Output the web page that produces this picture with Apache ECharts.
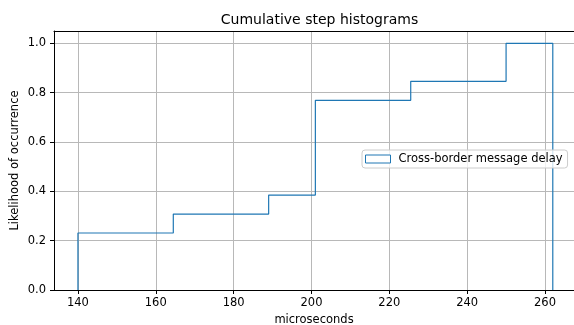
<!DOCTYPE html>
<html>
<head>
<meta charset="utf-8">
<script src="https://cdn.jsdelivr.net/npm/echarts@6/dist/echarts.min.js"></script>
<style>
html,body{margin:0;padding:0;background:#fff;}
#chart{width:574px;height:325px;}
</style>
</head>
<body>
<div id="chart"></div>
<script>
const xTicks = [140, 160, 180, 200, 220, 240, 260];
const yTicks = [0, 0.2, 0.4, 0.6, 0.8, 1.0];
const stepEdges = [140, 164.5, 189, 201, 225.5, 250, 262];
const cumulative = [0.231, 0.308, 0.385, 0.769, 0.846, 1.0];
const seriesName = 'Cross-border message delay';

const pts = [[stepEdges[0], 0]];
for (let i = 0; i < cumulative.length; i++) {
  pts.push([stepEdges[i], cumulative[i]]);
  pts.push([stepEdges[i + 1], cumulative[i]]);
}
pts.push([stepEdges[stepEdges.length - 1], 0]);

const FONT = 'DejaVu Sans';
const chart = echarts.init(document.getElementById('chart'), null, {renderer: 'canvas'});
chart.setOption({
  animation: false,
  backgroundColor: '#fff',
  textStyle: {fontFamily: FONT},
  title: {
    text: 'Cumulative step histograms',
    left: 314.5, top: 8,
    textAlign: 'center',
    textStyle: {fontFamily: FONT, fontSize: 14, fontWeight: 'normal', color: '#000'}
  },
  legend: {
    left: 362, top: 150,
    padding: [3, 5, 3, 3],
    backgroundColor: 'rgba(255,255,255,0.8)',
    borderColor: '#cccccc', borderWidth: 1, borderRadius: 3,
    icon: 'rect', itemWidth: 25, itemHeight: 8,
    itemStyle: {color: '#ffffff', borderColor: '#1f77b4', borderWidth: 1},
    textStyle: {fontFamily: FONT, fontSize: 11.5, color: '#000', padding: [0, 0, 0, 3]},
    data: [seriesName]
  },
  grid: {left: 54, right: 0, top: 31, bottom: 35, containLabel: false, outerBoundsMode: 'none'},
  xAxis: [{
    type: 'value', min: 133.85, max: 267.45,
    name: 'microseconds', nameLocation: 'middle', nameGap: 24, nameMoveOverlap: false,
    nameTextStyle: {fontFamily: FONT, fontSize: 11.5, color: '#000'},
    axisLine: {show: true, onZero: false, lineStyle: {color: '#000', width: 1}},
    axisTick: {show: true, inside: false, length: 4, customValues: xTicks, lineStyle: {color: '#000'}},
    axisLabel: {show: true, margin: 7, customValues: xTicks, fontFamily: FONT, fontSize: 11.5, color: '#000'},
    splitLine: {show: true, lineStyle: {color: '#b8b8b8', width: 1}}
  }, {
    type: 'value', position: 'top', min: 133.85, max: 267.45,
    axisLine: {show: true, onZero: false, lineStyle: {color: '#000', width: 1}},
    axisTick: {show: false}, axisLabel: {show: false}, splitLine: {show: false}
  }],
  yAxis: {
    type: 'value', min: 0, max: 1.05,
    name: 'Likelihood of occurrence', nameLocation: 'middle', nameGap: 33, nameRotate: 90,
    nameMoveOverlap: false,
    nameTextStyle: {fontFamily: FONT, fontSize: 11.5, color: '#000'},
    axisLine: {show: true, onZero: false, lineStyle: {color: '#000', width: 1}},
    axisTick: {show: true, inside: false, length: 4, customValues: yTicks, lineStyle: {color: '#000'}},
    axisLabel: {show: true, margin: 8, customValues: yTicks, fontFamily: FONT, fontSize: 11.5, color: '#000',
      formatter: v => v.toFixed(1)},
    splitLine: {show: true, lineStyle: {color: '#b8b8b8', width: 1}}
  },
  series: [{
    name: seriesName,
    type: 'line',
    xAxisIndex: 0,
    data: pts,
    showSymbol: false, symbol: 'none',
    lineStyle: {color: '#1f77b4', width: 1.2},
    itemStyle: {color: '#1f77b4'}
  }]
});
</script>
</body>
</html>
